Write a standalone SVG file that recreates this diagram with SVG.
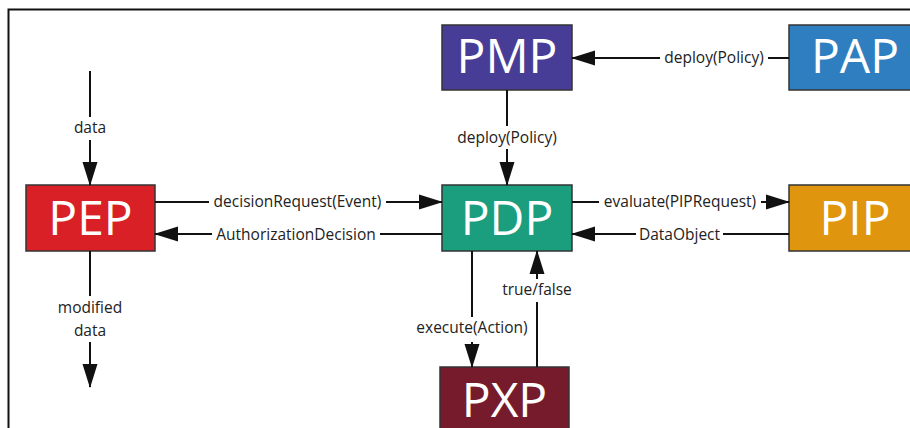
<svg xmlns="http://www.w3.org/2000/svg" width="910" height="428" viewBox="0 0 910 428">
<defs>
<marker id="ah" markerUnits="userSpaceOnUse" markerWidth="24" markerHeight="16" viewBox="0 0 24 16" refX="23" refY="8" orient="auto">
<path d="M0,0.5 L24,8 L0,15.5 z" fill="#111"/>
</marker>
<style>
.box{stroke:#333;stroke-width:1.5}
.nt{font-family:"Open Sans","DejaVu Sans",sans-serif;font-size:48px;fill:#fff;text-anchor:middle}
.lb{font-family:"Open Sans","DejaVu Sans",sans-serif;font-size:15.5px;fill:#222;text-anchor:middle}
.ln{stroke:#111;stroke-width:2;fill:none}
.ar{stroke:#111;stroke-width:2;fill:none;marker-end:url(#ah)}
</style>
</defs>
<rect x="0" y="0" width="910" height="428" fill="#fff"/>
<rect x="8.5" y="9.5" width="1000" height="1000" fill="none" stroke="#111" stroke-width="2"/>

<g id="PMP"><rect class="box" x="442" y="25" width="130" height="65" fill="#473C96"/><text class="nt" x="507" y="73">PMP</text></g>
<g id="PAP"><rect class="box" x="789" y="25" width="132" height="65" fill="#2F7EC0"/><text class="nt" x="855" y="73">PAP</text></g>
<g id="PEP"><rect class="box" x="26" y="185" width="129" height="66" fill="#D92026"/><text class="nt" x="90.5" y="235">PEP</text></g>
<g id="PDP"><rect class="box" x="442" y="185" width="130" height="66" fill="#1A9E7E"/><text class="nt" x="507" y="235">PDP</text></g>
<g id="PIP"><rect class="box" x="789" y="185" width="132" height="66" fill="#E0950E"/><text class="nt" x="855" y="235">PIP</text></g>
<g id="PXP"><rect class="box" x="440" y="367" width="129" height="80" fill="#761B2C"/><text class="nt" x="504.5" y="417">PXP</text></g>

<g id="connectors">
<!-- PAP -> PMP -->
<path class="ln" d="M789,58 H768"/>
<path class="ar" d="M660,58 H572"/>
<text class="lb" x="714" y="63">deploy(Policy)</text>
<!-- PMP -> PDP -->
<path class="ln" d="M507,90 V126"/>
<path class="ar" d="M507,149 V185"/>
<text class="lb" x="507" y="143">deploy(Policy)</text>
<!-- data -> PEP -->
<path class="ln" d="M90,71 V117"/>
<path class="ar" d="M90,140 V185"/>
<text class="lb" x="90" y="133">data</text>
<!-- PEP -> modified data -->
<path class="ln" d="M90,251 V296"/>
<path class="ar" d="M90,342 V387"/>
<text class="lb" x="90" y="313">modified</text>
<text class="lb" x="90" y="336">data</text>
<!-- PEP -> PDP -->
<path class="ln" d="M155,202 H209"/>
<path class="ar" d="M386,202 H442"/>
<text class="lb" x="297.5" y="207">decisionRequest(Event)</text>
<!-- PDP -> PEP -->
<path class="ln" d="M442,234 H380"/>
<path class="ar" d="M212,234 H155"/>
<text class="lb" x="296" y="240">AuthorizationDecision</text>
<!-- PDP -> PIP -->
<path class="ln" d="M572,202 H599"/>
<path class="ar" d="M761,202 H789"/>
<text class="lb" x="680" y="207">evaluate(PIPRequest)</text>
<!-- PIP -> PDP -->
<path class="ln" d="M789,234 H723"/>
<path class="ar" d="M636,234 H572"/>
<text class="lb" x="679.5" y="240">DataObject</text>
<!-- PDP -> PXP -->
<path class="ln" d="M472,251 V317"/>
<path class="ar" d="M472,342 V367"/>
<text class="lb" x="472" y="333">execute(Action)</text>
<!-- PXP -> PDP -->
<path class="ln" d="M537,367 V302"/>
<path class="ar" d="M537,279 V251"/>
<text class="lb" x="537" y="295">true/false</text>
</g>
</svg>
